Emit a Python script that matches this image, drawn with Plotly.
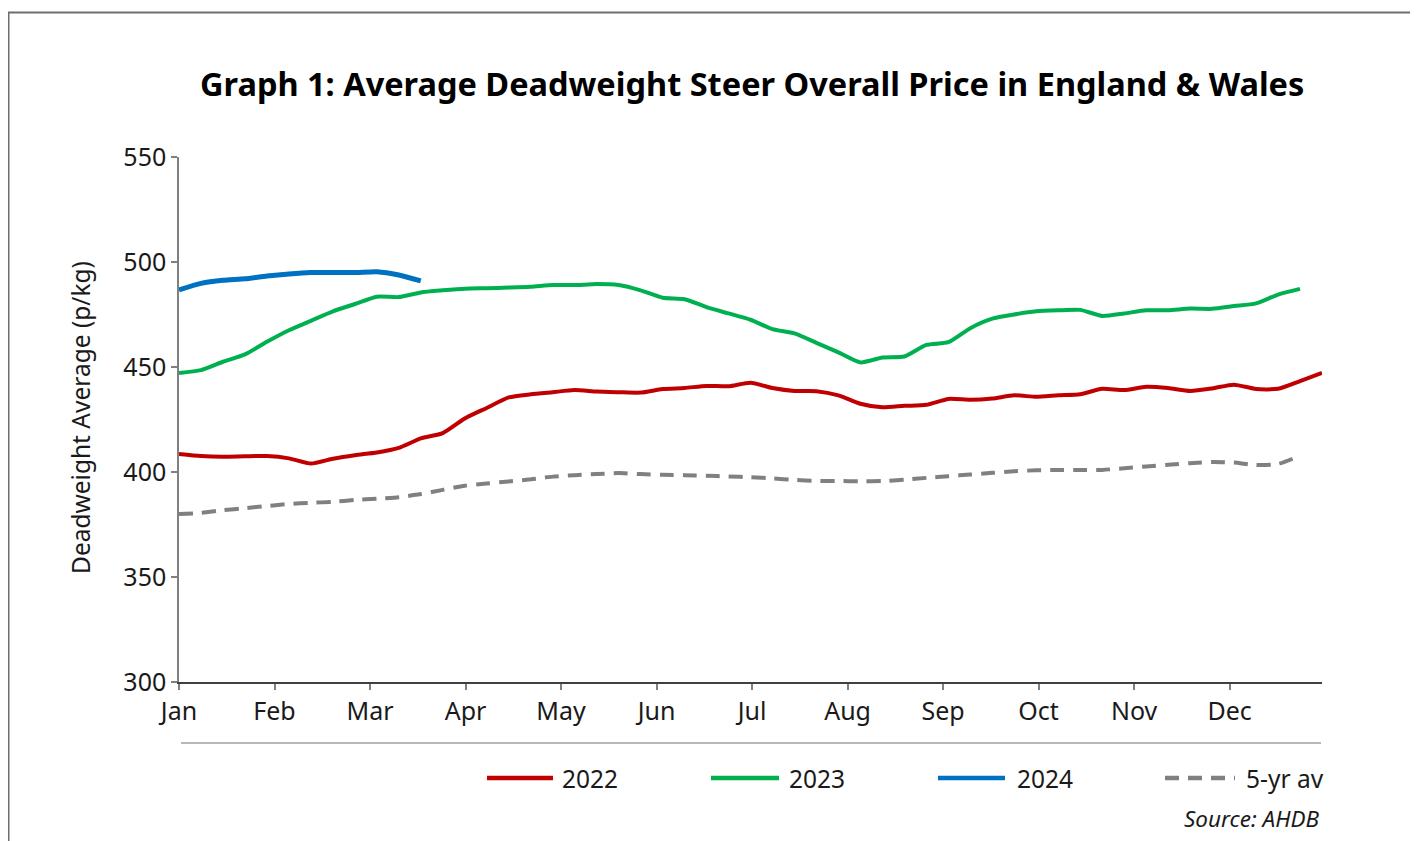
import plotly.graph_objects as go

# ---- data (weekly values, p/kg) ----
month_labels = ["Jan", "Feb", "Mar", "Apr", "May", "Jun", "Jul", "Aug", "Sep", "Oct", "Nov", "Dec"]

y2022 = [408.6, 407.6, 407.3, 407.5, 407.6, 406.5, 404.0, 406.3, 408.0, 409.3, 411.5, 416.0,
         418.5, 425.5, 430.5, 435.5, 437.0, 438.0, 439.0, 438.3, 438.0, 437.8, 439.5, 440.0,
         441.0, 440.8, 442.5, 440.0, 438.6, 438.5, 436.5, 432.5, 430.8, 431.5, 432.0, 434.8,
         434.4, 435.0, 436.5, 435.8, 436.5, 437.0, 439.6, 439.0, 440.6, 440.0, 438.6, 439.8,
         441.6, 439.5, 439.6, 443.3, 447.2]
y2023 = [447.1, 448.5, 452.5, 456.0, 462.0, 467.5, 472.0, 476.5, 480.0, 483.5, 483.3, 485.5,
         486.5, 487.3, 487.5, 487.8, 488.2, 489.0, 489.0, 489.5, 489.0, 486.5, 483.0, 482.3,
         478.5, 475.5, 472.5, 468.0, 466.0, 461.5, 457.0, 452.2, 454.5, 455.0, 460.5, 461.8,
         468.5, 473.0, 475.0, 476.5, 477.0, 477.2, 474.3, 475.5, 477.0, 477.0, 477.8, 477.7,
         479.0, 480.3, 484.5, 487.2]
y2024 = [486.7, 489.8, 491.3, 492.0, 493.3, 494.3, 495.0, 495.0, 495.0, 495.4, 493.8, 491.0]
y5yr = [380.0, 380.5, 381.8, 382.8, 383.8, 384.8, 385.3, 385.8, 386.7, 387.3, 388.0, 389.5,
        391.5, 393.5, 394.5, 395.5, 396.5, 397.8, 398.5, 399.0, 399.5, 399.0, 398.7, 398.5,
        398.2, 397.9, 397.5, 397.0, 396.2, 395.8, 395.7, 395.6, 395.7, 396.3, 397.2, 398.0,
        398.8, 399.6, 400.4, 400.8, 401.0, 401.0, 401.0, 401.8, 402.6, 403.4, 404.2, 404.8,
        404.5, 403.3, 403.8, 407.8]

def week_days(vals):
    return [7 * i for i in range(len(vals))]

# month ticks evenly spaced across the year (day-of-year units)
month_ticks = [i * 365 / 12 for i in range(len(month_labels))]

FONT = "Noto Sans"
DASH = "14px,9px"
series = [
    ("2022", y2022, "#C00000", 4, None),
    ("2023", y2023, "#00B050", 4, None),
    ("2024", y2024, "#0070C0", 5, None),
    ("5-yr av", y5yr, "#808080", 4, DASH),
]

fig = go.Figure()
for name, vals, color, w, dash in series:
    line = dict(color=color, width=w, shape="spline", smoothing=0.6)
    if dash:
        line["dash"] = dash
    fig.add_trace(go.Scatter(x=week_days(vals), y=vals, mode="lines", name=name,
                             line=line, showlegend=False, hoverinfo="x+y"))

# page body has an 8px margin: work in screenshot pixels and shift by OFF
OFF = 8
W, H = 1418 - OFF, 841 - OFF
L, R, T, B = 179, 1322, 157, 682   # plot area in screenshot pixels

def px(x):
    return (x - L) / (R - L)

def py(y):
    return (B - y) / (B - T)

TICKFONT = dict(size=25, family=FONT, color="#1a1a1a")

fig.update_layout(
    width=W, height=H,
    margin=dict(l=L - OFF, r=(W + OFF) - R, t=T - OFF, b=(H + OFF) - B),
    paper_bgcolor="white", plot_bgcolor="white",
    font=dict(family=FONT, color="#000000"),
    xaxis=dict(range=[0, 364], tickvals=month_ticks, ticktext=month_labels,
               showgrid=False, zeroline=False, showline=True, linecolor="#404040", linewidth=1.5,
               ticks="outside", ticklen=6, tickcolor="#808080", tickwidth=1.5,
               tickfont=TICKFONT),
    yaxis=dict(range=[300, 550], tickvals=[300, 350, 400, 450, 500, 550],
               showgrid=False, zeroline=False, showline=True, linecolor="#808080", linewidth=1.5,
               ticks="outside", ticklen=6, tickcolor="#808080", tickwidth=1.5,
               tickfont=TICKFONT),
)

shapes = []
# outer frame
shapes.append(dict(type="rect", xref="paper", yref="paper",
                   x0=px(8.5), x1=px(1411), y0=py(860), y1=py(12.5),
                   line=dict(color="#6e6e6e", width=2), layer="below"))
# separator line
shapes.append(dict(type="line", xref="paper", yref="paper",
                   x0=px(181), x1=px(1321), y0=py(743), y1=py(743),
                   line=dict(color="#a0a0a0", width=1.5)))

annotations = [
    dict(text="<b>Graph 1: Average Deadweight Steer Overall Price in England &amp; Wales</b>",
         xref="paper", yref="paper", x=px(752), y=py(83), xanchor="center", yanchor="middle",
         showarrow=False, font=dict(size=32.5, family=FONT, color="#000000")),
    dict(text="Deadweight Average (p/kg)", xref="paper", yref="paper", x=px(80), y=py(418),
         xanchor="center", yanchor="middle", textangle=-90, showarrow=False,
         font=dict(size=24.5, family=FONT, color="#1a1a1a")),
    dict(text="<i>Source: AHDB</i>", xref="paper", yref="paper", x=px(1322), y=py(818),
         xanchor="right", yanchor="middle", showarrow=False,
         font=dict(size=22.5, family=FONT, color="#1a1a1a")),
]

legend_items = [
    ("2022", "#C00000", 487, 553, 560, None),
    ("2023", "#00B050", 711, 779, 787, None),
    ("2024", "#0070C0", 938, 1005, 1015, None),
    ("5-yr av", "#808080", 1165, 1235, 1244, DASH),
]
for label, color, lx0, lx1, tx, dash in legend_items:
    ln = dict(color=color, width=4.5)
    if dash:
        ln["dash"] = dash
    shapes.append(dict(type="line", xref="paper", yref="paper",
                       x0=px(lx0), x1=px(lx1), y0=py(778), y1=py(778), line=ln))
    annotations.append(dict(text=label, xref="paper", yref="paper", x=px(tx), y=py(778),
                            xanchor="left", yanchor="middle", showarrow=False,
                            font=dict(size=24.5, family=FONT, color="#1a1a1a")))

fig.update_layout(shapes=shapes, annotations=annotations)
fig.write_html("out.html")
